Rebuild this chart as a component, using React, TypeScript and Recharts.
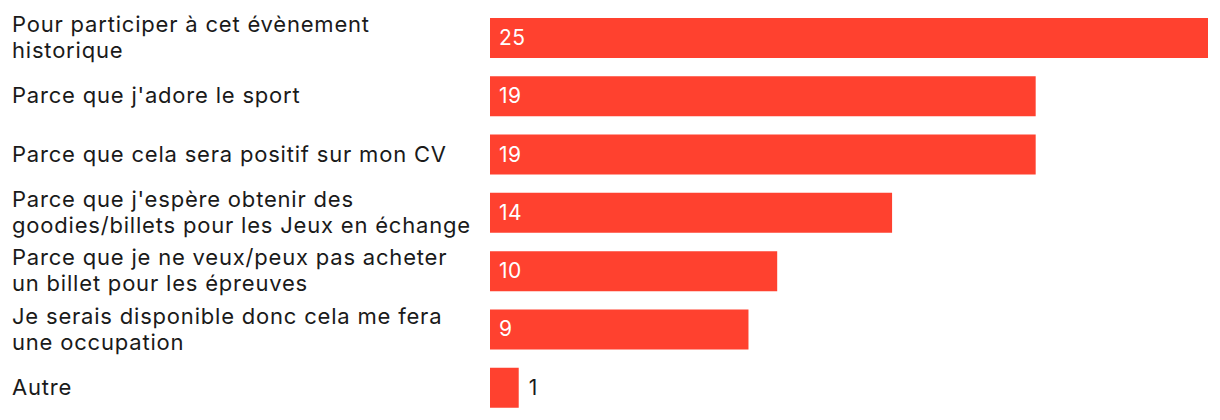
import { BarChart, Bar, XAxis, YAxis, LabelList } from 'recharts'

const categories = [
  'Pour participer à cet évènement\nhistorique',
  "Parce que j'adore le sport",
  'Parce que cela sera positif sur mon CV',
  "Parce que j'espère obtenir des\ngoodies/billets pour les Jeux en échange",
  'Parce que je ne veux/peux pas acheter\nun billet pour les épreuves',
  'Je serais disponible donc cela me fera\nune occupation',
  'Autre',
]

const values = [25, 19, 19, 14, 10, 9, 1]

const data = categories.map((label, i) => ({ label, value: values[i] }))

const FONT = 'Inter, "Noto Sans", sans-serif'
const TEXT = '#1a1a1a'
const RED = '#ff412f'

function LabelTick({ y, payload }: any) {
  const lines = String(payload.value).split('\n')
  const lineHeight = 26
  const first = y + 7 - ((lines.length - 1) * lineHeight) / 2
  return (
    <text
      x={4}
      y={first}
      fill={TEXT}
      fontSize={22}
      fontFamily={FONT}
      letterSpacing={0.8}
      textAnchor="start"
    >
      {lines.map((line, i) => (
        <tspan key={i} x={4} y={first + i * lineHeight}>
          {line}
        </tspan>
      ))}
    </text>
  )
}

function ValueLabel({ x, y, width, height, value }: any) {
  const inside = width > 40
  return (
    <text
      x={inside ? x + 9 : x + width + 10}
      y={y + height / 2 + 7}
      fill={inside ? '#ffffff' : TEXT}
      fontSize={21}
      fontFamily={FONT}
      letterSpacing={0.4}
    >
      {value}
    </text>
  )
}

export default function App() {
  return (
    <div style={{ width: 1204, height: 412, background: '#fff' }}>
      <BarChart
        width={1204}
        height={412}
        data={data}
        layout="vertical"
        margin={{ top: 1, right: 4, bottom: 3, left: 0 }}
        barCategoryGap={0}
      >
        <XAxis type="number" domain={[0, 25]} hide />
        <YAxis
          type="category"
          dataKey="label"
          width={482}
          tickLine={false}
          axisLine={false}
          tick={<LabelTick />}
          interval={0}
        />
        <Bar dataKey="value" fill={RED} barSize={40} isAnimationActive={false}>
          <LabelList dataKey="value" content={<ValueLabel />} />
        </Bar>
      </BarChart>
    </div>
  )
}
